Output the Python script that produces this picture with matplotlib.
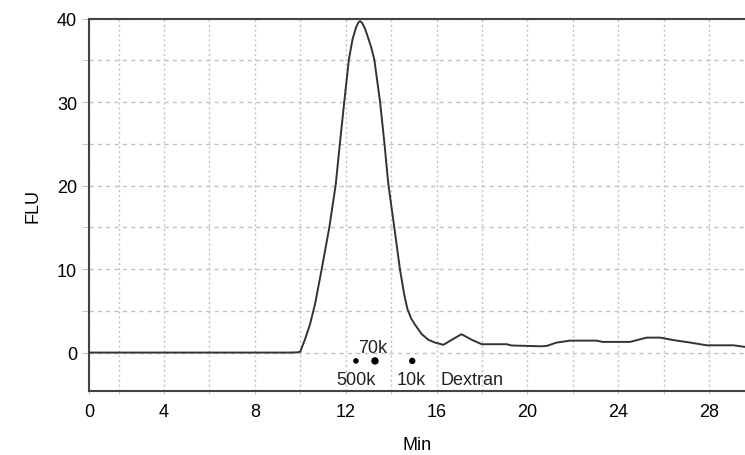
#Cromatograma FLU x Min com marcadores de dextrana

import matplotlib.pyplot as plt
import numpy as np
from matplotlib.ticker import FixedLocator

#Dados
tempo = [0.7, 9.5, 9.85, 10.0, 10.21, 10.43, 10.65, 10.94, 11.28, 11.56, 11.75, 11.94,
         12.14, 12.3, 12.45, 12.55, 12.63, 12.72, 12.85, 13.0, 13.13, 13.26, 13.51, 13.70,
         13.88, 14.14, 14.39, 14.58, 14.72, 14.88, 15.05, 15.35, 15.64, 15.93, 16.30, 16.67,
         17.1, 17.55, 17.99, 19.09, 19.3, 19.97, 20.6, 20.85, 21.29, 21.88, 23.05, 23.3,
         24.52, 25.25, 25.84, 26.42, 27.16, 27.89, 29.07, 29.58]
flu = [0, 0, 0.02, 0.1, 1.6, 3.4, 5.8, 9.95, 15.0, 20.1, 25.2, 30.1,
       35.1, 37.5, 38.9, 39.5, 39.7, 39.5, 38.8, 37.6, 36.5, 35.1, 30.1, 25.2,
       20.1, 15.0, 9.95, 6.9, 5.2, 4.1, 3.35, 2.2, 1.53, 1.2, 0.93, 1.53,
       2.2, 1.53, 1.0, 1.0, 0.85, 0.8, 0.75, 0.8, 1.2, 1.43, 1.43, 1.28,
       1.28, 1.79, 1.79, 1.5, 1.2, 0.87, 0.87, 0.68]

#Marcadores de massa molar (dextrana)
marc_nomes = ['500k', '70k', '10k']
marc_tempo = [12.45, 13.29, 14.93]
marc_y = [-1.0, -1.0, -1.0]
marc_tam = [9, 19, 13]

#Eixos
x_min, x_max = 0.70, 29.58
y_min, y_max = -4.6, 40
x_ticks = [x_min, 4, 8, 12, 16, 20, 24, 28]
x_labels = ['0', '4', '8', '12', '16', '20', '24', '28']
x_grade = [2, 6, 10, 14, 18, 22, 26]
y_ticks = [0, 10, 20, 30, 40]
y_grade = [5, 15, 25, 35]

plt.rcParams['font.family'] = ['Liberation Sans', 'DejaVu Sans']
plt.rcParams['font.size'] = 13

fig = plt.figure(figsize=(7.45, 4.56), dpi=100)
ax = fig.add_axes([0.1195, 0.1404, 0.8805, 0.8166])

cor_grade = '#c2c2c2'
ax.plot(tempo, flu, color='#333333', lw=1.4, zorder=3)

#pontos e textos dos padroes
ax.scatter(marc_tempo, marc_y, s=marc_tam, color='black', zorder=4)
ax.text(13.21, 0.62, '70k', ha='center', va='center', color='#222222')
ax.text(marc_tempo[0], -3.17, marc_nomes[0], ha='center', va='center', color='#222222')
ax.text(14.87, -3.17, marc_nomes[2], ha='center', va='center', color='#222222')
ax.text(16.19, -3.17, 'Dextran', ha='left', va='center', color='#222222')

ax.set_xlim(x_min, x_max)
ax.set_ylim(y_min, y_max)

ax.xaxis.set_major_locator(FixedLocator(x_ticks))
ax.set_xticklabels(x_labels)
ax.xaxis.set_minor_locator(FixedLocator(x_grade))
ax.yaxis.set_major_locator(FixedLocator(y_ticks))
ax.yaxis.set_minor_locator(FixedLocator(y_grade))

#grade tracejada
ax.grid(True, which='both', axis='y', color=cor_grade, lw=1, linestyle=(0, (3, 3)))
ax.grid(True, which='both', axis='x', color=cor_grade, lw=1, linestyle=(0, (1.5, 2)))
ax.set_axisbelow(True)

ax.tick_params(axis='y', which='both', length=5, color=cor_grade, pad=3.5, labelsize=13)
ax.tick_params(axis='x', which='both', length=2, color=cor_grade, pad=7, labelsize=13)

for lado in ['left', 'bottom', 'top']:
    ax.spines[lado].set_color('#444444')
    ax.spines[lado].set_linewidth(1.5)
ax.spines['right'].set_visible(False)

#legendas
ax.set_xlabel('Min', labelpad=11)
ax.set_ylabel('FLU', labelpad=11)

plt.savefig('out.png', dpi=100)
